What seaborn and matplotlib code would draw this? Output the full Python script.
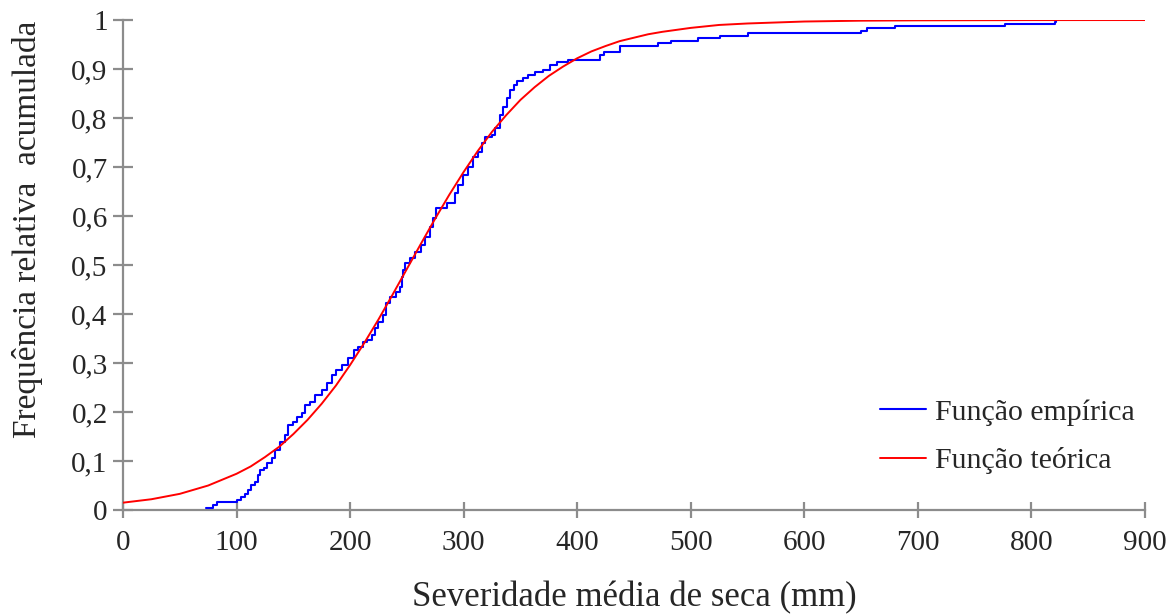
import matplotlib
matplotlib.use("Agg")
import matplotlib.pyplot as plt
import seaborn as sns
import pandas as pd
from matplotlib.ticker import FuncFormatter, MultipleLocator

# Empirical CDF: jump positions (mm) and cumulative frequency after each jump
emp_x = [73, 79, 83, 100, 104, 107, 110, 113, 116, 119, 121, 124, 127, 131, 134,
         138, 143, 145, 150, 153, 158, 160, 165, 169, 175, 180, 184, 188, 193, 198,
         203, 207, 211, 215, 219, 222, 225, 229, 232, 235, 240, 244, 246, 247, 248,
         253, 257, 262, 266, 270, 273, 276, 285, 292, 295, 299, 304, 308, 313, 316,
         319, 325, 328, 332, 335, 338, 341, 344, 347, 352, 357, 363, 370, 376, 382,
         392, 420, 424, 438, 471, 483, 506, 526, 550, 650, 655, 680, 777, 821, 822]
emp_y = [0.005, 0.010, 0.016, 0.020, 0.026, 0.033, 0.041, 0.051, 0.057, 0.072,
         0.082, 0.086, 0.096, 0.106, 0.122, 0.139, 0.153, 0.173, 0.180, 0.190,
         0.198, 0.214, 0.220, 0.235, 0.245, 0.259, 0.276, 0.286, 0.296, 0.310,
         0.327, 0.332, 0.343, 0.347, 0.357, 0.371, 0.384, 0.398, 0.422, 0.435,
         0.445, 0.455, 0.476, 0.490, 0.504, 0.514, 0.527, 0.541, 0.557, 0.578,
         0.596, 0.616, 0.626, 0.647, 0.663, 0.684, 0.700, 0.720, 0.731, 0.749,
         0.761, 0.765, 0.780, 0.806, 0.822, 0.840, 0.857, 0.867, 0.876, 0.882,
         0.888, 0.894, 0.898, 0.908, 0.914, 0.918, 0.929, 0.935, 0.947, 0.953,
         0.957, 0.963, 0.967, 0.974, 0.978, 0.984, 0.988, 0.992, 0.996, 1.000]

# Theoretical CDF
teo_x = [0, 25, 50, 75, 100, 112.5, 125, 137.5, 150, 162.5, 175, 187.5, 200,
         212.5, 225, 237.5, 250, 262.5, 275, 287.5, 300, 312.5, 325, 337.5, 350,
         362.5, 375, 387.5, 400, 412.5, 425, 437.5, 450, 462.5, 475, 500, 525,
         550, 575, 600, 650, 700, 800, 900]
teo_y = [0.015, 0.022, 0.033, 0.050, 0.074, 0.089, 0.108, 0.129, 0.155, 0.184,
         0.217, 0.254, 0.296, 0.341, 0.389, 0.440, 0.492, 0.544, 0.595, 0.644,
         0.690, 0.733, 0.772, 0.806, 0.837, 0.863, 0.886, 0.905, 0.922, 0.936,
         0.947, 0.957, 0.964, 0.971, 0.976, 0.984, 0.990, 0.993, 0.995, 0.997,
         0.9987, 0.9994, 0.9999, 1.0]

x_ticks = [0, 100, 200, 300, 400, 500, 600, 700, 800, 900]
labels = ["Função empírica", "Função teórica"]

df_emp = pd.DataFrame({"x": emp_x, "y": emp_y})
df_teo = pd.DataFrame({"x": teo_x, "y": teo_y})

sns.set_style("white")
plt.rcParams["font.family"] = ["Liberation Serif", "DejaVu Serif"]

fig = plt.figure(figsize=(11.76, 6.15), dpi=100)
ax = fig.add_axes([0.1046, 0.1707, 0.869, 0.7967])

sns.lineplot(data=df_emp, x="x", y="y", ax=ax, color="#0000FF", lw=1.5,
             drawstyle="steps-post", estimator=None, sort=False, label=labels[0])
sns.lineplot(data=df_teo, x="x", y="y", ax=ax, color="#FF0000", lw=1.4,
             estimator=None, sort=False, label=labels[1])

ax.set_xlim(0, 900)
ax.set_ylim(0, 1)
ax.set_xticks(x_ticks)
ax.yaxis.set_major_locator(MultipleLocator(0.1))


def fmt(v, pos):
    if abs(v) < 1e-9:
        return "0"
    if abs(v - 1) < 1e-9:
        return "1"
    return f"{v:.1f}".replace(".", ",")


ax.yaxis.set_major_formatter(FuncFormatter(fmt))

for s in ["top", "right"]:
    ax.spines[s].set_visible(False)
for s in ["left", "bottom"]:
    ax.spines[s].set_color("#8c8c8c")
    ax.spines[s].set_linewidth(1.6)
ax.spines["left"].set_zorder(0)
ax.spines["bottom"].set_zorder(0)

ax.tick_params(axis="y", left=True, direction="inout", length=14, width=1.6,
               color="#8c8c8c", labelsize=21, pad=4)
ax.tick_params(axis="x", bottom=True, direction="inout", length=11, width=1.6,
               color="#8c8c8c", labelsize=21, pad=9)

ax.set_xlabel("Severidade média de seca (mm)", fontsize=25)
ax.xaxis.set_label_coords(0.5, -0.178, transform=ax.transAxes)
ax.xaxis.label.set_va("center")
ax.set_ylabel("Frequência relativa  acumulada", fontsize=24)
ax.yaxis.set_label_coords(-0.093, 0.573, transform=ax.transAxes)
ax.yaxis.label.set_va("center")

leg = ax.legend(loc="upper left", bbox_to_anchor=(0.7407, 0.2265), frameon=False,
                fontsize=21.5, handlelength=1.55, handletextpad=0.28,
                labelspacing=0.72, borderpad=0, borderaxespad=0)

ax.grid(False)
fig.savefig("out.png", dpi=100)
